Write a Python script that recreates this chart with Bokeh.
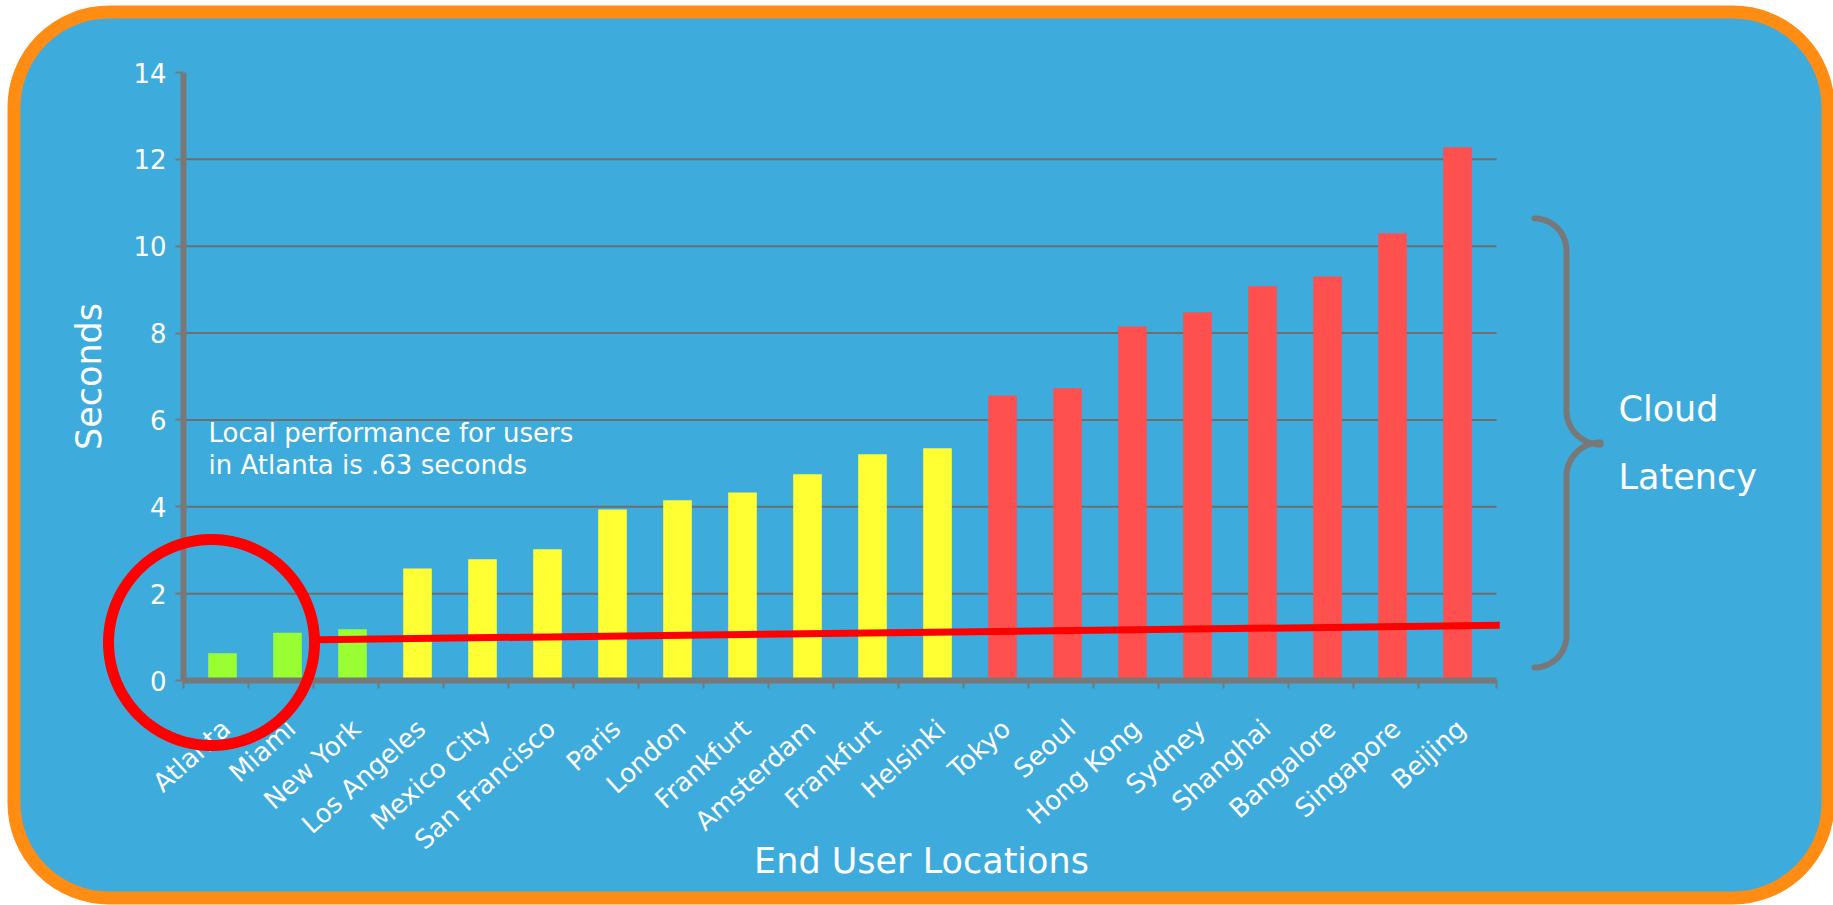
import numpy as np
from bokeh.plotting import figure
from bokeh.models import (Range1d, FixedTicker, Label, BoxAnnotation,
                          PolyAnnotation, ColumnDataSource)
from bokeh.embed import file_html
from bokeh.resources import INLINE

# ---------------- data ----------------
cities = ["Atlanta", "Miami", "New York", "Los Angeles", "Mexico City",
          "San Francisco", "Paris", "London", "Frankfurt", "Amsterdam",
          "Frankfurt", "Helsinki", "Tokyo", "Seoul", "Hong Kong", "Sydney",
          "Shanghai", "Bangalore", "Singapore", "Beijing"]
seconds = [0.63, 1.10, 1.18, 2.58, 2.79, 3.02, 3.94, 4.15, 4.33, 4.75,
           5.21, 5.35, 6.56, 6.73, 8.15, 8.48, 9.08, 9.30, 10.30, 12.28]
tiers = ["local", "local", "local",
         "regional", "regional", "regional", "regional", "regional",
         "regional", "regional", "regional", "regional",
         "far", "far", "far", "far", "far", "far", "far", "far"]
y_ticks = [0, 2, 4, 6, 8, 10, 12, 14]
grid_values = [2, 4, 6, 8, 10, 12]
trend_x = [1.48, 19.65]
trend_y = [0.94, 1.27]
annotation_lines = ["Local performance for users", "in Atlanta is .63 seconds"]
bracket_lines = ["Cloud", "Latency"]

palette = {"local": "#99FF33", "regional": "#FFFF33", "far": "#FF5050"}

# ---------------- geometry ----------------
W, H = 1833, 905
FL, FR, FT, FB = 183, 1496, 72, 680          # plot-area edges in canvas px
X0, X1 = -0.6, 19.6                          # category axis extent
Y0, Y1 = 0, 14                               # value axis extent
kx = (X1 - X0) / (FR - FL)
ky = (Y1 - Y0) / (FB - FT)


def dx(px):
    return X0 + (px - FL) * kx


def dy(py):
    return Y1 - (py - FT) * ky


FONT = "DejaVu Sans"
GRAY = "#787878"
WHITE = "#FFFFFF"

p = figure(width=W, height=H,
           x_range=Range1d(dx(0), dx(W)), y_range=Range1d(dy(H), dy(0)),
           output_backend="svg", toolbar_location=None, min_border=0)
p.background_fill_color = None
p.border_fill_color = "#FFFFFF"
p.outline_line_color = None

# rounded blue panel with orange rim
bg = BoxAnnotation(left=dx(13.5), right=dx(1827.5), top=dy(11.5), bottom=dy(897.5),
                   fill_color="#3DACDC", fill_alpha=1.0,
                   line_color="#FF8C13", line_width=13, line_alpha=1.0,
                   border_radius=95, level="image")
p.add_layout(bg)

# grid lines (only across the plot area)
p.xgrid.visible = False
p.ygrid.visible = False
p.segment(x0=[X0] * len(grid_values), x1=[X1] * len(grid_values),
          y0=grid_values, y1=grid_values, line_color="#6E6E6E", line_width=2)

# bars
src = ColumnDataSource(dict(x=list(range(len(cities))), top=seconds,
                            color=[palette[t] for t in tiers]))
p.vbar(x="x", top="top", bottom=0, width=0.44, fill_color="color",
       line_color=None, source=src)

# trend line
p.line(trend_x, trend_y, line_color="#FF0000", line_width=7)

# y axis
ya = p.yaxis[0]
ya.fixed_location = X0
ya.bounds = (Y0, Y1)
ya.ticker = FixedTicker(ticks=y_ticks)
ya.axis_line_color = GRAY
ya.axis_line_width = 6
ya.major_tick_line_color = GRAY
ya.major_tick_line_width = 2
ya.major_tick_out = 8
ya.major_tick_in = 0
ya.minor_tick_line_color = None
ya.major_label_text_color = WHITE
ya.major_label_text_font = FONT
ya.major_label_text_font_size = "26px"
ya.major_label_standoff = 9
ya.axis_label = "Seconds"
ya.axis_label_text_color = WHITE
ya.axis_label_text_font = FONT
ya.axis_label_text_font_size = "35px"
ya.axis_label_text_font_style = "normal"
ya.axis_label_standoff = 21

# x axis (labels sit slightly right of each bar, as in the original)
xa = p.xaxis[0]
xa.fixed_location = Y0
xa.bounds = (X0, X1)
label_pos = [i + 0.06 for i in range(len(cities))]
boundaries = [i + X0 for i in range(len(cities))] + [X1]
xa.ticker = FixedTicker(ticks=label_pos, minor_ticks=boundaries)
xa.major_label_overrides = {pos: c for pos, c in zip(label_pos, cities)}
xa.axis_line_color = GRAY
xa.axis_line_width = 6
xa.major_tick_out = 0
xa.major_tick_in = 0
xa.major_tick_line_color = None
xa.minor_tick_line_color = GRAY
xa.minor_tick_line_width = 2
xa.minor_tick_out = 8
xa.minor_tick_in = 0
xa.major_label_orientation = 0.733
xa.major_label_text_color = WHITE
xa.major_label_text_font = FONT
xa.major_label_text_font_size = "26px"
xa.major_label_standoff = 36

# x-axis title (offset from the plot centre as in the original)
p.add_layout(Label(x=dx(921), y=dy(860), text="End User Locations",
                   text_align="center", text_baseline="alphabetic",
                   text_color=WHITE, text_font=FONT, text_font_size="35px"))

# annotation text
for txt, base in zip(annotation_lines, [432, 464]):
    p.add_layout(Label(x=dx(208), y=dy(base), text=txt, text_align="left",
                       text_baseline="alphabetic", text_color=WHITE,
                       text_font=FONT, text_font_size="26px"))

# Cloud latency text
for txt, base in zip(bracket_lines, [408, 476]):
    p.add_layout(Label(x=dx(1618), y=dy(base), text=txt, text_align="left",
                       text_baseline="alphabetic", text_color=WHITE,
                       text_font=FONT, text_font_size="35px"))

# red highlight circle
t = np.linspace(0, 2 * np.pi, 181)
ccx, ccy, cr = 211, 642, 103
p.add_layout(PolyAnnotation(xs=[dx(ccx + cr * np.cos(a)) for a in t],
                            ys=[dy(ccy + cr * np.sin(a)) for a in t],
                            fill_color=None, fill_alpha=0,
                            line_color="#FF0000", line_width=11,
                            line_alpha=1.0, level="overlay"))


# curly brace
def arc(cx, cy, r, a0, a1, n=24):
    aa = np.radians(np.linspace(a0, a1, n))
    return list(cx + r * np.cos(aa)), list(cy + r * np.sin(aa))


bx, by = [], []
for seg in [arc(1534, 250, 32, -90, 0), ([1566], [410]),
            arc(1600, 410, 34, 180, 90), arc(1600, 476, 34, -90, -180),
            ([1566], [635]), arc(1534, 635, 32, 0, 90)]:
    bx += list(seg[0])
    by += list(seg[1])
bx_full = bx + bx[::-1]
by_full = by + by[::-1]
p.add_layout(PolyAnnotation(xs=[dx(v) for v in bx_full],
                            ys=[dy(v) for v in by_full],
                            fill_color=None, fill_alpha=0,
                            line_color=GRAY, line_width=6, line_alpha=1.0,
                            line_join="round", level="overlay"))

open("out.html", "w").write(file_html(p, INLINE))
